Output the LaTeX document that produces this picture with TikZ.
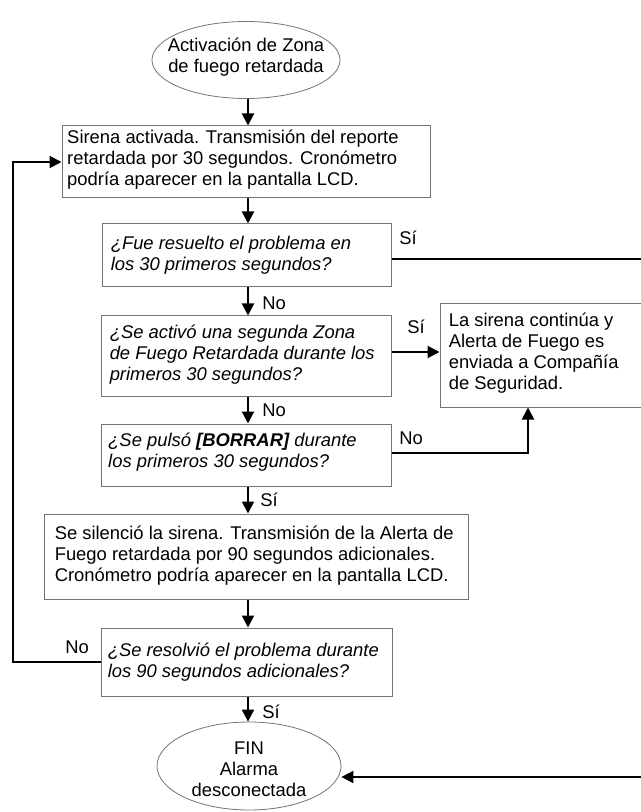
\documentclass[tikz,border=0pt]{standalone}
\usepackage{fontspec}
\setmainfont{Liberation Sans}
\usetikzlibrary{arrows.meta,shapes.geometric}
\begin{document}
\begin{tikzpicture}[x=0.75pt,y=-0.75pt,
  every node/.style={font=\fontsize{13.8pt}{15.75pt}\selectfont},
  box/.style={draw=black!55, line width=0.75pt, rectangle, inner sep=0pt},
  oval/.style={draw=black!55, line width=0.6pt, ellipse, inner sep=0pt},
  txt/.style={inner sep=0pt, align=left, anchor=west},
  dtxt/.style={txt, font=\fontsize{13.8pt}{15.75pt}\selectfont\itshape},
  lbl/.style={inner sep=0pt, anchor=west},
  conn/.style={line width=1.5pt, -{Triangle[length=9pt,width=9pt]}}
]
\useasboundingbox (0,0) rectangle (641,812);
\clip (0,0) rectangle (641,812);

% shapes
\node[oval, minimum width=141pt, minimum height=57.75pt] (start) at (246,60) {};
\node[inner sep=0pt, align=center] (startt) at ([yshift=2pt]start.center) {Activación de Zona\\de fuego retardada};

\node[box, minimum width=276pt, minimum height=54pt] (box1) at (246,162) {};
\node[txt] (box1t) at ([xshift=4.1pt, yshift=1.5pt]box1.west) {Sirena activada. Transmisión del reporte\\retardada por 30 segundos. Cronómetro\\podría aparecer en la pantalla LCD.};

\node[box, minimum width=216.75pt, minimum height=47.25pt] (dec1) at (246.5,255.5) {};
\node[dtxt] (dec1t) at ([xshift=6.75pt]dec1.west) {¿Fue resuelto el problema en\\los 30 primeros segundos?};

\node[box, minimum width=217.5pt, minimum height=60pt] (dec2) at (246,356) {};
\node[dtxt] (dec2t) at ([xshift=6.75pt, yshift=1pt]dec2.west) {¿Se activó una segunda Zona\\de Fuego Retardada durante los\\primeros 30 segundos?};

\node[box, minimum width=165pt, minimum height=77.25pt] (rbox) at (550,355.5) {};
\node[txt] (rboxt) at ([xshift=6.75pt, yshift=2pt]rbox.west) {La sirena continúa y\\Alerta de Fuego es\\enviada a Compañía\\de Seguridad.};

\node[box, minimum width=217.5pt, minimum height=46.5pt] (dec3) at (246,455) {};
\node[dtxt] (dec3t) at ([xshift=5.6pt, yshift=2.5pt]dec3.west) {¿Se pulsó \textbf{[BORRAR]} durante\\los primeros 30 segundos?};

\node[box, minimum width=318pt, minimum height=63.75pt] (box4) at (256,556.5) {};
\node[txt] (box4t) at ([xshift=8.25pt, yshift=1pt]box4.west) {Se silenció la sirena. Transmisión de la Alerta de\\Fuego retardada por 90 segundos adicionales.\\Cronómetro podría aparecer en la pantalla LCD.};

\node[box, minimum width=218.25pt, minimum height=51pt] (dec4) at (246.5,662) {};
\node[dtxt] (dec4t) at ([xshift=5.25pt]dec4.west) {¿Se resolvió el problema durante\\los 90 segundos adicionales?};

\node[oval, minimum width=138pt, minimum height=66pt] (fin) at (249,766) {};
\node[inner sep=0pt, align=center] (fint) at ([yshift=-2.25pt]fin.center) {FIN\\Alarma\\desconectada};

% helper coordinates
\coordinate (col) at (248,0);
\coordinate (loop) at (13,0);
\coordinate (rcol) at (660,0);
\coordinate (ncol) at (528,0);
\coordinate (fy) at (0,777);

% connectors
\draw[conn] (start.south -| col) -- (box1.north -| col);
\draw[conn] (box1.south -| col) -- (dec1.north -| col);
\draw[conn] (dec1.south -| col) -- (dec2.north -| col);
\draw[conn] (dec2.south -| col) -- (dec3.north -| col);
\draw[conn] (dec3.south -| col) -- (box4.north -| col);
\draw[conn] (box4.south -| col) -- (dec4.north -| col);
\draw[conn] (dec4.south -| col) -- (fin.north -| col);

\draw[conn] ([yshift=-2.6pt]dec1.east) -- ([yshift=-2.6pt]dec1.east -| rcol) -- (rcol |- fy) -- (fin.east |- fy);
\draw[conn] ([yshift=3pt]dec2.east) -- ([yshift=3pt]dec2.east -| rbox.west);
\draw[conn] ([yshift=1.5pt]dec3.east) -- ([yshift=1.5pt]dec3.east -| ncol) -- (rbox.south -| ncol);
\draw[conn] (dec4.west) -- (dec4.west -| loop) -- (box1.west -| loop) -- (box1.west);

% labels
\node[lbl] (s1) at (399,238) {Sí};
\node[lbl] (n1) at (262,303) {No};
\node[lbl] (s2) at (407,327) {Sí};
\node[lbl] (n2) at (262,410) {No};
\node[lbl] (n3) at (399,438) {No};
\node[lbl] (s3) at (260,500) {Sí};
\node[lbl] (n4) at (65,647) {No};
\node[lbl] (s4) at (262,712) {Sí};
\end{tikzpicture}
\end{document}
